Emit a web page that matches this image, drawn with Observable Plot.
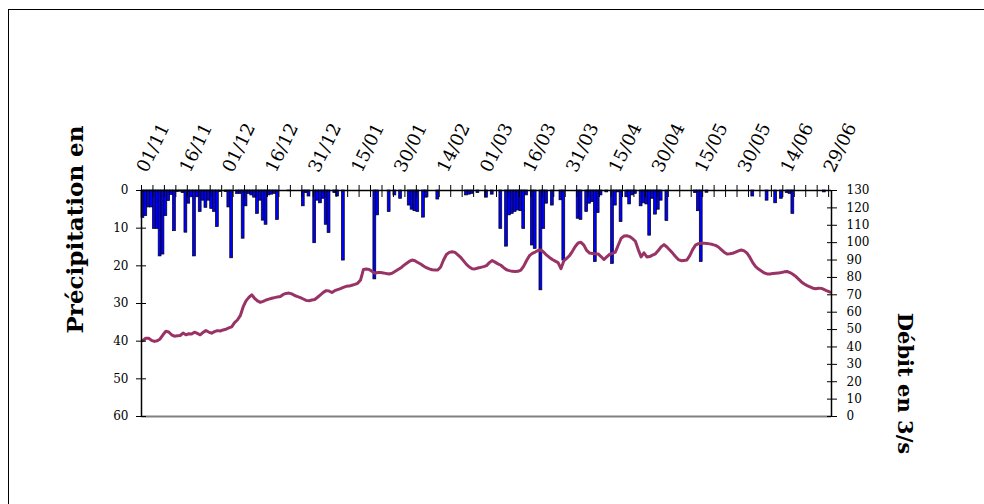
<!DOCTYPE html>
<html><head><meta charset="utf-8">
<script src="https://cdn.jsdelivr.net/npm/d3@7"></script>
<script src="https://cdn.jsdelivr.net/npm/@observablehq/plot@0.6"></script>
<style>
html,body{margin:0;padding:0;background:#fff;overflow:hidden;width:984px;height:504px;}
#border{position:absolute;left:8px;top:9px;width:1200px;height:800px;border:1px solid #000;}
#chart{position:absolute;left:0;top:0;}
</style></head><body>
<div id="border"></div><div id="chart"></div>
<script>
const dateLabels = ["01/11","16/11","01/12","16/12","31/12","15/01","30/01","14/02","01/03","16/03","31/03","15/04","30/04","15/05","30/05","14/06","29/06"];
const labelDays = [0,15,30,45,60,75,90,105,120,135,150,165,180,195,210,225,240];
const precipitation = [
  7.3,6.8,4.5,4.5,10.2,10.2,17.5,17,6.8,2.8,
  1.2,10.8,0.4,0.3,0.7,11.2,3.5,1.8,17.5,1.8,
  5.7,2.7,4.6,2.7,4.9,5.7,9.7,0.4,0,0.4,
  4.5,18,0,0.9,0.9,12.8,4.2,0.9,1.3,1.9,
  6.2,2.7,8,9.1,1.3,1.1,0.9,7.8,0,0,
  0,0.2,0,0,0,0,4.2,0.7,1.6,0,
  14,2.7,3.4,2.2,9.1,11.3,0,0.7,1.6,0,
  18.6,0,0,0,0,0,0,0,0,0,
  0,23.6,6.6,0,0,0,5.7,0,1.3,0,
  2.2,0,0,4,5.1,5.5,5.7,0,7.2,1.9,
  0,0,0,2.4,0,0,0,0,0,0,
  0,0,0,1.3,1.1,0.9,0,0.7,0,0,
  1.9,0,1.1,0,0,10.2,0,14.9,6.6,6.2,
  5.7,5.3,5.5,10.2,1.3,0,14.6,15.5,0,26.5,
  10.2,3.5,0,4,0,0,2.6,18.6,0,0,
  0,0,7.5,7.8,0,5.7,3.5,3.1,19,6,
  1.3,0,0.5,0,19.5,4,0.5,8.4,0,1.8,
  3.7,1.3,0.9,0,4.2,3.4,3.7,12,2.2,6.4,
  5.1,2.7,0,8.1,0,0,0,0,0,0,
  0,0,0,0.7,5.5,19,0,0.6,0,0,
  0,0,0,0,0,0,0,0,0,0,
  0,0,0,1.6,0,0,0,0,2.7,0,
  0,3.4,0,2.2,0,0.7,0.9,6.2,0,0,
  0,0,0,0,0,0,0,0,0.5,0,
  0
];
const discharge = [
  43.7,45,45,43.8,43.2,43.6,44.6,47,49,48.6,
  47,46.2,46.4,46.6,48,47,47.6,47.4,48.5,47.8,
  47,48.4,49.4,48.6,47.9,48.8,49.4,49.2,49.8,50.2,
  51,51.6,54,55.5,58,63,66.5,68.5,70,68,
  66.5,65.7,66.2,67,67.5,68,68.4,68.8,69,70.2,
  70.8,71,70.5,69.6,69,68.4,67.6,66.8,66.6,67,
  67.3,68.6,70,71.4,72.4,72.2,71.3,72.4,73,73.6,
  74.3,74.9,75,75.5,76,76.6,78.5,84.5,84.8,84.6,
  83.5,82.4,82.8,82.8,82.6,82.2,82,82.4,83.4,84.4,
  85.4,86.8,88,89.2,90,89.6,88.6,87.7,86.6,85.6,
  84.9,84.4,84.3,84.3,86,90,93.2,94.4,94.8,94.4,
  93,91.5,89.5,87.5,86,85,84.9,85.4,85.8,86.2,
  86.8,88.5,89.7,88.8,87.8,87,85.6,84.4,83.9,83.5,
  83.4,83.5,84.2,86.5,89.7,92.5,93.8,94.6,95.5,95.8,
  94.5,92.8,91.5,90.3,89.4,88.5,85,89.5,91,92.5,
  95,97.8,99.8,100.2,98.6,95.5,94,93.8,93.6,93.5,
  92,90.3,91.8,93.3,93.8,94.6,98.5,102.4,103.8,104,
  103.5,102.3,100.8,96,91.8,94.2,91.8,92,92.8,93.6,
  95.5,97.6,98.9,97.5,95.8,94,92,90.3,89.6,89.8,
  90,92.5,96,98.6,99.4,99.6,99.6,99.5,99.3,98.9,
  98.4,97.5,96,94.5,93.5,93.6,93.9,94.5,95.3,95.8,
  95.3,94,91.5,88.5,86.2,84.8,83.7,82.6,82,82,
  82.2,82.4,82.6,82.8,83.2,83.4,82.8,81.8,80.6,79,
  77.4,76.2,75.3,74.6,73.8,73.5,73.8,73.7,73,72.2,
  71.5
];
const precipTicks = [0,10,20,30,40,50,60];
const dischargeTicks = [0,10,20,30,40,50,60,70,80,90,100,110,120,130];
const leftTitle = "Précipitation en";
const rightTitle = "Débit en 3/s";
const axisTickStep = 4;

const nDays = precipitation.length;
const P_MAX = 60, Q_MAX = 130;
const toLeft = q => P_MAX - q * P_MAX / Q_MAX;
const fromLeft = y => (P_MAX - y) * Q_MAX / P_MAX;

const rain = precipitation.map((p, d) => ({d, p})).filter(r => r.p > 0);
const flow = discharge.map((q, d) => ({d, q}));
const labels = dateLabels.map((t, i) => ({d: labelDays[i], t}));
const tickDays = d3.range(0, nDays, axisTickStep);

const chart = Plot.plot({
  width: 984, height: 504,
  marginLeft: 141, marginRight: 153, marginTop: 190, marginBottom: 88,
  style: {fontFamily: "'DejaVu Serif', serif", fontSize: "12px", color: "#000", background: "transparent", overflow: "visible"},
  x: {domain: [0, nDays], axis: null, label: null},
  y: {domain: [0, P_MAX], reverse: true, axis: null, label: null},
  marks: [
    Plot.rect(rain, {x1: "d", x2: r => r.d + 1, y1: 0, y2: "p", fill: "#0000FF", stroke: "#000", strokeWidth: 0.7}),
    Plot.line(flow, {x: r => r.d + 0.5, y: r => toLeft(r.q), stroke: "#993366", strokeWidth: 3}),
    Plot.ruleY([P_MAX], {stroke: "#808080", strokeWidth: 2}),
    Plot.ruleY([0], {stroke: "#000", strokeWidth: 1.5}),
    Plot.ruleX([0], {stroke: "#000", strokeWidth: 1.5}),
    Plot.ruleX([nDays], {stroke: "#000", strokeWidth: 1.5}),
    Plot.axisX({anchor: "top", ticks: tickDays, tickSize: 12, dy: 6, tickFormat: () => "", label: null, stroke: "#000"}),
    Plot.axisY({anchor: "left", ticks: precipTicks, tickSize: 10, dx: 5, tickPadding: 8, label: null, stroke: "#000", fill: "#000"}),
    Plot.axisY({anchor: "right", ticks: dischargeTicks.map(toLeft), tickFormat: v => String(Math.round(fromLeft(v))), tickSize: 10, dx: -5, tickPadding: 10, label: null, stroke: "#000", fill: "#000"}),
    Plot.text(labels, {x: r => r.d + 0.5, frameAnchor: "top", text: "t", rotate: -64, textAnchor: "start", lineAnchor: "bottom", dx: 4, dy: -17, fontSize: 18, fill: "#000", ariaLabel: "date labels"}),
    Plot.text([leftTitle], {frameAnchor: "left", textAnchor: "middle", rotate: -90, dx: -66, dy: -74, fontSize: 23, fontWeight: "bold", fill: "#000"}),
    Plot.text([rightTitle], {frameAnchor: "right", textAnchor: "middle", rotate: 90, dx: 73, dy: 80, fontSize: 21, fontWeight: "bold", fill: "#000"})
  ]
});
// clip the rotated date labels at the top, as in the original chart
const svgns = "http://www.w3.org/2000/svg";
const clipTop = 123;
const defs = document.createElementNS(svgns, "defs");
const cp = document.createElementNS(svgns, "clipPath");
cp.setAttribute("id", "labelclip");
const cr = document.createElementNS(svgns, "rect");
cr.setAttribute("x", 0); cr.setAttribute("y", clipTop);
cr.setAttribute("width", 984); cr.setAttribute("height", 504);
cp.appendChild(cr); defs.appendChild(cp); chart.insertBefore(defs, chart.firstChild);
const lg = chart.querySelector('g[aria-label="date labels"]');
if (lg) {
  const wrap = document.createElementNS(svgns, "g");
  wrap.setAttribute("clip-path", "url(#labelclip)");
  lg.parentNode.insertBefore(wrap, lg);
  wrap.appendChild(lg);
}
document.getElementById("chart").appendChild(chart);
</script>
</body></html>
